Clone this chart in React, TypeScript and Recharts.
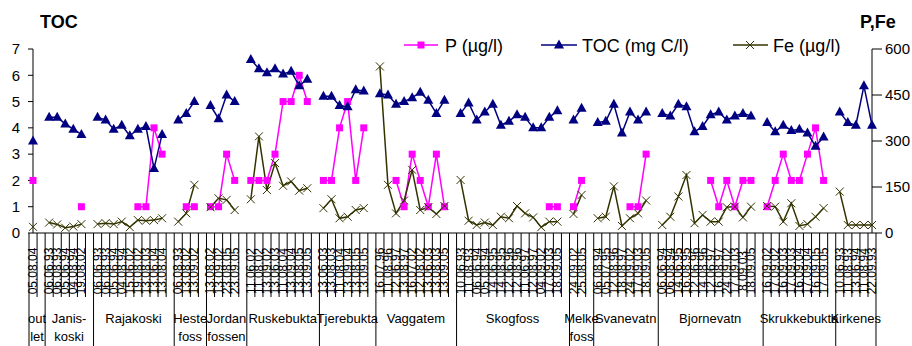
import React from "react";
import { ComposedChart, Customized, Line, XAxis, YAxis } from "recharts";

// station names as they wrap under the axis
const stations = [
  ["out", "let"],
  ["Janis-", "koski"],
  ["Rajakoski"],
  ["Heste", "foss"],
  ["Jordan", "fossen"],
  ["Ruskebukta"],
  ["Tjerebukta"],
  ["Vaggatem"],
  ["Skogfoss"],
  ["Melke", "foss"],
  ["Svanevatn"],
  ["Bjornevatn"],
  ["Skrukkebukta"],
  ["Kirkenes"]
];

const dates = [
  ["05.08.04"],
  ["06.06.93", "06.08.93", "05.06.94", "04.08.94", "19.08.02"],
  ["06.06.93", "06.08.93", "05.06.94", "04.08.94", "15.06.02", "19.08.02", "13.08.03", "13.06.04", "13.08.04"],
  ["06.08.93", "13.08.02", "13.09.02"],
  ["13.08.02", "13.09.02", "23.08.05", "23.09.05"],
  ["11.06.02", "11.08.02", "13.09.02", "13.06.03", "11.08.04", "13.09.04", "13.08.05", "13.09.05"],
  ["13.06.03", "13.08.03", "11.08.04", "13.09.04", "13.08.05", "13.09.05"],
  ["16.07.96", "11.08.96", "12.06.97", "13.08.97", "16.07.02", "12.08.02", "13.06.03", "13.08.03", "13.09.05"],
  ["10.06.93", "11.08.93", "06.06.94", "05.08.94", "14.06.95", "14.08.95", "12.06.96", "12.08.96", "11.06.97", "12.08.97", "04.09.02", "17.09.03", "18.09.05"],
  ["24.09.02", "25.08.05"],
  ["06.08.94", "05.07.95", "12.08.96", "18.08.97", "24.09.02", "17.09.03", "18.09.05"],
  ["06.06.94", "06.08.94", "14.06.95", "16.08.95", "12.06.96", "14.08.96", "12.06.97", "16.08.97", "24.09.02", "17.09.03", "8.09.03", "18.09.05"],
  ["16.09.02", "17.09.02", "16.09.03", "17.09.03", "16.09.04", "17.09.04", "16.09.05", "17.09.05"],
  ["10.06.93", "11.08.93", "13.06.94", "11.08.94", "22.09.93"]
];

const n = null;

const toc = [
  [3.5],
  [4.4, 4.4, 4.15, 3.95, 3.75],
  [4.4, 4.3, 3.95, 4.1, 3.7, 3.95, 4.05, 2.45, 3.75],
  [4.3, 4.55, 5.0],
  [4.85, 4.35, 5.25, 5.0],
  [6.6, 6.25, 6.1, 6.25, 6.05, 6.15, 5.6, 5.85],
  [5.2, 5.2, 4.85, 4.8, 5.45, 5.4],
  [5.3, 5.25, 4.9, 5.0, 5.15, 5.35, 5.05, 4.55, 5.05],
  [4.55, 4.95, 4.3, 4.6, 4.9, 4.1, 4.25, 4.5, 4.4, 4.0, 4.0, 4.4, 4.65],
  [4.3, 4.75],
  [4.2, 4.25, 4.9, 3.8, 4.6, 4.3, 4.6],
  [4.55, 4.45, 4.9, 4.8, 3.85, 4.05, 4.5, 4.6, 4.3, 4.45, 4.55, 4.45],
  [4.2, 3.85, 4.1, 3.9, 3.95, 3.8, 3.3, 3.65],
  [4.6, 4.2, 4.1, 5.6, 4.1]
];

const phosphorus = [
  [2],
  [n, n, n, n, 1],
  [n, n, n, n, n, 1, 1, 4, 3],
  [n, 1, 1],
  [1, 1, 3, 2],
  [2, 2, 2, 3, 5, 5, 6, 5],
  [2, 2, 4, 5, 2, 4],
  [n, n, 2, 1, 3, 2, 1, 3, 1],
  [n, n, n, n, n, n, n, n, n, n, n, 1, 1],
  [1, 2],
  [n, n, n, n, 1, 1, 3],
  [n, n, n, n, n, n, 2, 1, 2, 1, 2, 2],
  [1, 2, 3, 2, 2, 3, 4, 2],
  [n, n, n, n, n]
];

const iron = [
  [20],
  [34, 28, 17, 21, 29],
  [29, 32, 29, 37, 19, 42, 40, 42, 48],
  [37, 64, 157],
  [84, 113, 108, 75],
  [110, 315, 140, 228, 154, 168, 138, 146],
  [81, 110, 48, 53, 75, 81],
  [543, 157, 64, 106, 206, 75, 84, 62, 88],
  [173, 40, 26, 34, 26, 53, 48, 88, 64, 51, 19, 37, 37],
  [62, 124],
  [48, 53, 152, 23, 48, 64, 106],
  [26, 53, 119, 189, 32, 59, 37, 37, 84, 86, 51, 86],
  [88, 86, 37, 97, 23, 29, 53, 81],
  [135, 26, 26, 26, 26]
];

const tocTicks = [0, 1, 2, 3, 4, 5, 6, 7];
const feTicks = [0, 150, 300, 450, 600];

const FONT = "'Liberation Sans', Arial, sans-serif";
const P_COLOR = "#ff00ff";
const TOC_COLOR = "#000080";
const FE_COLOR = "#333300";

const PLOT_LEFT = 33;
const PLOT_RIGHT = 872;

type Row = {
  date: string;
  toc: number | null;
  p: number | null;
  fe: number | null;
  first: boolean;
  size: number;
  station: number;
};

// one blank category after each station breaks the lines like in the sheet
const rows: Row[] = [];
stations.forEach((_, s) => {
  const count = dates[s].length;
  const size = s < stations.length - 1 ? count + 1 : count;
  for (let i = 0; i < size; i++) {
    rows.push({
      date: dates[s][i] ?? "",
      toc: toc[s][i] ?? null,
      p: phosphorus[s][i] ?? null,
      fe: iron[s][i] ?? null,
      first: i === 0,
      size,
      station: s
    });
  }
});

const BAND = (PLOT_RIGHT - PLOT_LEFT) / rows.length;

function hasPoint(props: any) {
  return props.value != null && props.cy != null && !Number.isNaN(props.cy);
}

function SquareDot(props: any) {
  if (!hasPoint(props)) return <g key={`p-${props.index}`} />;
  const { cx, cy } = props;
  return <rect key={`p-${props.index}`} x={cx - 3.5} y={cy - 3.5} width={7} height={7} fill={P_COLOR} />;
}

function TriangleDot(props: any) {
  if (!hasPoint(props)) return <g key={`t-${props.index}`} />;
  const { cx, cy } = props;
  return (
    <polygon
      key={`t-${props.index}`}
      points={`${cx},${cy - 5.5} ${cx - 5},${cy + 3.5} ${cx + 5},${cy + 3.5}`}
      fill={TOC_COLOR}
    />
  );
}

function CrossDot(props: any) {
  if (!hasPoint(props)) return <g key={`f-${props.index}`} />;
  const { cx, cy } = props;
  return (
    <g key={`f-${props.index}`} stroke={FE_COLOR} strokeWidth={1}>
      <line x1={cx - 4} y1={cy - 4} x2={cx + 4} y2={cy + 4} />
      <line x1={cx - 4} y1={cy + 4} x2={cx + 4} y2={cy - 4} />
    </g>
  );
}

function CategoryTick(props: any) {
  const { y, payload } = props;
  const index = payload?.index ?? props.index;
  const row = rows[index];
  if (!row) return <g />;
  const x = payload?.coordinate ?? props.x;
  const left = x - BAND / 2;
  const last = index === rows.length - 1;
  return (
    <g fontFamily={FONT}>
      <line x1={left} x2={left} y1={y} y2={row.first ? 346 : y + 64} stroke="#000" />
      {last && <line x1={x + BAND / 2} x2={x + BAND / 2} y1={y} y2={346} stroke="#000" />}
      {row.date && (
        <text
          transform={`translate(${x},${y + 38}) rotate(-90)`}
          textAnchor="middle"
          dominantBaseline="central"
          fontSize={12}
          fill="#000"
        >
          {row.date}
        </text>
      )}
      {row.first &&
        stations[row.station].map((line, i) => (
          <text
            key={i}
            x={left + (row.size * BAND) / 2}
            y={y + 89.5 + i * 18.5}
            textAnchor="middle"
            fontSize={13}
            fill="#000"
          >
            {line}
          </text>
        ))}
    </g>
  );
}

// right axis ticks cross the axis line
function RightTick(props: any) {
  const { x, y, payload } = props;
  return (
    <g>
      <line x1={x - 13} x2={x - 3} y1={y} y2={y} stroke="#000" />
      <text x={x} y={y} dy="0.355em" fontSize={15} fontFamily={FONT} fill="#000">
        {payload.value}
      </text>
    </g>
  );
}

function LegendLayer() {
  return (
    <g fontFamily={FONT} fontSize={18} fill="#000">
      <line x1={404} x2={438} y1={45} y2={45} stroke={P_COLOR} strokeWidth={1.5} />
      <rect x={417.5} y={41.5} width={7} height={7} fill={P_COLOR} />
      <text x={445} y={51.5}>P (µg/l)</text>

      <line x1={541} x2={577} y1={45} y2={45} stroke={TOC_COLOR} strokeWidth={1.5} />
      <polygon points="559,39.5 554,48.5 564,48.5" fill={TOC_COLOR} />
      <text x={582} y={51.5}>TOC (mg C/l)</text>

      <line x1={733} x2={768} y1={45} y2={45} stroke={FE_COLOR} strokeWidth={1.5} />
      <g stroke={FE_COLOR}>
        <line x1={746} y1={41} x2={754} y2={49} />
        <line x1={746} y1={49} x2={754} y2={41} />
      </g>
      <text x={773} y={51.5}>Fe (µg/l)</text>

      <text x={40} y={28} fontWeight="bold">TOC</text>
      <text x={860} y={28} fontWeight="bold">P,Fe</text>
    </g>
  );
}

export default function App() {
  return (
    <div style={{ position: "absolute", left: 0, top: 0, width: 912, height: 346, background: "#fff" }}>
      <ComposedChart width={912} height={346} data={rows} margin={{ top: 49, right: 0, bottom: 0, left: 0 }}>
        <XAxis
          dataKey="date"
          interval={0}
          height={113}
          tickLine={false}
          tickSize={0}
          tickMargin={0}
          axisLine={{ stroke: "#000" }}
          tick={<CategoryTick />}
        />
        <YAxis
          yAxisId="left"
          width={33}
          domain={[0, 7]}
          ticks={tocTicks}
          tickSize={5}
          tickMargin={8}
          axisLine={{ stroke: "#000" }}
          tickLine={{ stroke: "#000" }}
          tick={{ fill: "#000", fontSize: 15, fontFamily: FONT }}
        />
        <YAxis
          yAxisId="right"
          orientation="right"
          width={40}
          domain={[0, 600]}
          ticks={feTicks}
          tickLine={false}
          tickSize={5}
          tickMargin={8}
          axisLine={{ stroke: "#000" }}
          tick={<RightTick />}
        />
        <Line
          yAxisId="left"
          dataKey="p"
          stroke={P_COLOR}
          strokeWidth={1.5}
          dot={SquareDot}
          activeDot={false}
          isAnimationActive={false}
        />
        <Line
          yAxisId="left"
          dataKey="toc"
          stroke={TOC_COLOR}
          strokeWidth={1.5}
          dot={TriangleDot}
          activeDot={false}
          isAnimationActive={false}
        />
        <Line
          yAxisId="right"
          dataKey="fe"
          stroke={FE_COLOR}
          strokeWidth={1.5}
          dot={CrossDot}
          activeDot={false}
          isAnimationActive={false}
        />
        <Customized component={LegendLayer} />
      </ComposedChart>
    </div>
  );
}
